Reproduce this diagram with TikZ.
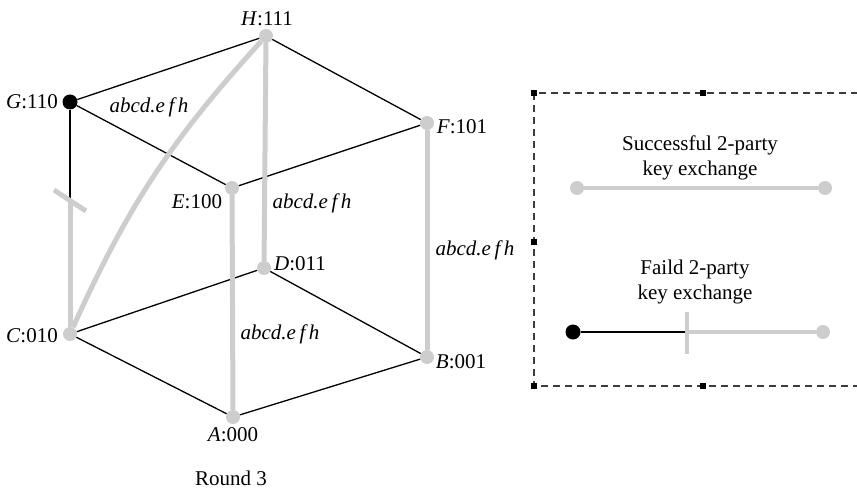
\documentclass[tikz,border=0pt]{standalone}
\usepackage{fontspec}
\setmainfont{Liberation Serif}
\definecolor{lg}{RGB}{205,205,205}
\definecolor{dg}{RGB}{60,60,60}
\tikzset{
  gdot/.style={circle,fill=lg,inner sep=0pt,minimum size=14pt},
  bdot/.style={circle,fill=black,inner sep=0pt,minimum size=15pt},
  thin edge/.style={draw=black,line width=1.3pt},
  gray edge/.style={draw=lg,line width=5pt},
  lab/.style={inner sep=0pt,font=\fontsize{21}{25}\selectfont},
  handle/.style={fill=black,inner sep=0pt,minimum size=6pt},
  dbox/.style={draw=dg,line width=1.3pt,dash pattern=on 7pt off 5pt}
}
\begin{document}
\begin{tikzpicture}[x=1pt,y=-1pt]
\useasboundingbox (0,0) rectangle (857,492);
% vertices
\node[gdot] (H) at (266,36) {};
\node[bdot] (G) at (70,102) {};
\node[gdot] (F) at (427,123) {};
\node[gdot] (E) at (232,188) {};
\node[gdot] (D) at (264,268) {};
\node[gdot] (C) at (70,334) {};
\node[gdot] (B) at (427,357) {};
\node[gdot] (A) at (233,417) {};
\coordinate (gc) at (70,200);
\coordinate (gt1) at (54,190);
\coordinate (gt2) at (86,211);
% black edges
\draw[thin edge] (H) -- (G);
\draw[thin edge] (H) -- (F);
\draw[thin edge] (G) -- (E);
\draw[thin edge] (E) -- (F);
\draw[thin edge] (C) -- (D);
\draw[thin edge] (D) -- (B);
\draw[thin edge] (C) -- (A);
\draw[thin edge] (A) -- (B);
\draw[thin edge] (G) -- (gc);
% gray edges
\draw[gray edge] (E) -- (A);
\draw[gray edge] (H) -- (D);
\draw[gray edge] (F) -- (B);
\draw[gray edge] (C) to[bend left=9] (H);
\draw[gray edge] (C) -- (gc);
\draw[gray edge] (gt1) -- (gt2);
% vertex labels
\node[lab] (lH) at (267,19) {\textit{H}:111};
\node[lab] (lG) at (32,102) {\textit{G}:110};
\node[lab] (lF) at (462,127) {\textit{F}:101};
\node[lab] (lE) at (197,202) {\textit{E}:100};
\node[lab] (lD) at (300,264) {\textit{D}:011};
\node[lab] (lC) at (32,336) {\textit{C}:010};
\node[lab] (lB) at (461,362) {\textit{B}:001};
\node[lab] (lA) at (233,435) {\textit{A}:000};
% edge labels
\node[lab] (k1) at (149,107) {\textit{abcd.e\,f\,h}};
\node[lab] (k2) at (312,203) {\textit{abcd.e\,f\,h}};
\node[lab] (k3) at (475,250) {\textit{abcd.e\,f\,h}};
\node[lab] (k4) at (280,334) {\textit{abcd.e\,f\,h}};
\node[lab] (round) at (231,478) {Round 3};
% legend
\draw[dbox] (534,93) rectangle (871,386);
\node[handle] (h1) at (534,93) {};
\node[handle] (h2) at (703,93) {};
\node[handle] (h3) at (534,242) {};
\node[handle] (h4) at (534,386) {};
\node[handle] (h5) at (703,386) {};
\node[lab,align=center] (t1) at (700,158) {Successful 2-party\\key exchange};
\node[gdot] (s1) at (577,188) {};
\node[gdot] (s2) at (825,188) {};
\draw[gray edge,line width=4pt] (s1) -- (s2);
\node[lab,align=center] (t2) at (695,282) {Faild 2-party\\key exchange};
\node[bdot] (f1) at (573,332) {};
\node[gdot] (f2) at (823,332) {};
\coordinate (fm) at (687,332);
\coordinate (ft1) at (687,312);
\coordinate (ft2) at (687,354);
\draw[thin edge] (f1) -- (fm);
\draw[gray edge,line width=4pt] (fm) -- (f2);
\draw[gray edge,line width=4pt] (ft1) -- (ft2);
\end{tikzpicture}
\end{document}
